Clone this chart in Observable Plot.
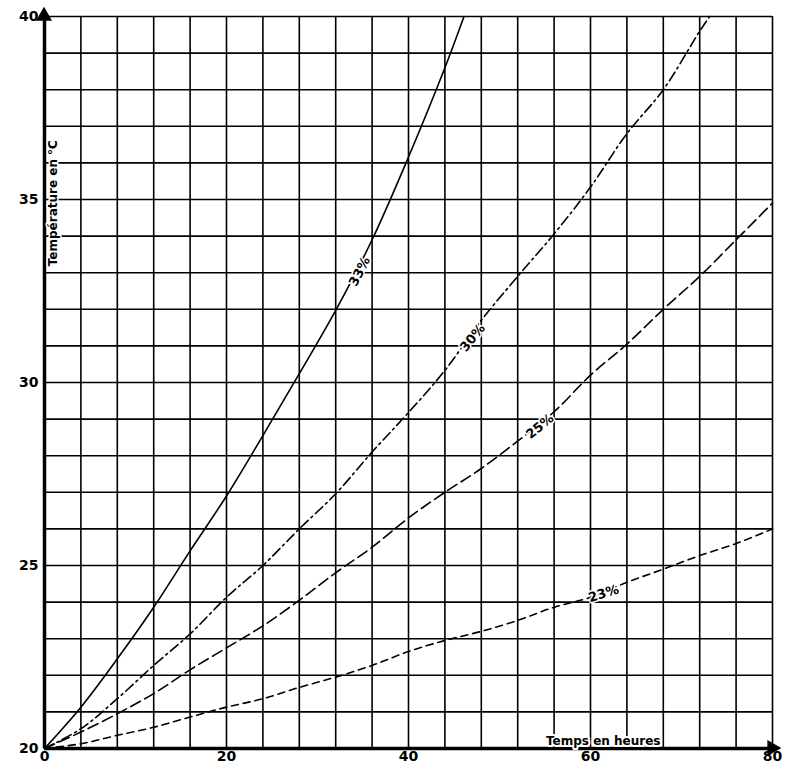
<!DOCTYPE html>
<html>
<head>
<meta charset="utf-8">
<script src="https://cdn.jsdelivr.net/npm/d3@7"></script>
<script src="https://cdn.jsdelivr.net/npm/@observablehq/plot@0.6"></script>
<style>
  body { margin: 0; background: #fff; }
  #chart svg { display: block; }
</style>
</head>
<body>
<div id="chart"></div>
<script>
// heures et températures
const hours = [0, 4, 8, 12, 16, 20, 24, 28, 32, 36, 40, 44, 48, 52, 56, 60, 64, 68, 72, 76, 80];

const hours33 = [0, 4, 8, 12, 16, 20, 24, 28, 32, 36, 40, 44, 46.1];
const temp33 = [20, 21.13, 22.45, 23.86, 25.4, 26.9, 28.55, 30.24, 31.97, 33.9, 36.16, 38.6, 40];

const hours30 = [0, 4, 8, 12, 16, 20, 24, 28, 32, 36, 40, 44, 48, 52, 56, 60, 64, 68, 72, 73.1];
const temp30 = [20, 20.54, 21.36, 22.27, 23.13, 24.13, 25.0, 26.0, 26.96, 28.1, 29.18, 30.33, 31.7, 32.9, 34.06, 35.34, 36.8, 38.0, 39.6, 40];

const temp25 = [20, 20.45, 20.95, 21.5, 22.15, 22.75, 23.35, 24.05, 24.8, 25.5, 26.3, 27.0, 27.65, 28.4, 29.2, 30.2, 31.05, 32.0, 32.9, 33.9, 34.9];

const temp23 = [20, 20.13, 20.36, 20.58, 20.86, 21.13, 21.36, 21.67, 21.95, 22.27, 22.65, 22.95, 23.2, 23.5, 23.86, 24.13, 24.54, 24.9, 25.27, 25.6, 26.0];

const xTicks = [0, 20, 40, 60, 80];
const yTicks = [20, 25, 30, 35, 40];
const xDomain = [0, 80];
const yDomain = [20, 40];

// étiquettes des courbes : heure où l'étiquette est posée sur la courbe
const curveLabels = ["33%", "30%", "25%", "23%"];
const labelHours = [34.2, 46.6, 54, 61];

const series = [
  {name: "33%", h: hours33, t: temp33, dash: null, angle: -63},
  {name: "30%", h: hours30, t: temp30, dash: "10,4,2,4", angle: -51},
  {name: "25%", h: hours, t: temp25, dash: "11,5", angle: -39},
  {name: "23%", h: hours, t: temp23, dash: "7,5", angle: -17}
];

const rows = series.flatMap(s => s.h.map((h, i) => ({name: s.name, h, t: s.t[i]})));

function at(s, h) {
  const i = d3.bisectLeft(s.h, h);
  if (i <= 0) return s.t[0];
  const h0 = s.h[i - 1], h1 = s.h[i];
  return s.t[i - 1] + (s.t[i] - s.t[i - 1]) * (h - h0) / (h1 - h0);
}

const labels = curveLabels.map((name, i) => {
  const s = series.find(d => d.name === name);
  return {name, h: labelHours[i], t: at(s, labelHours[i]), angle: s.angle};
});

// pointes de flèche des axes
const arrowHeads = [
  {h: xDomain[0], t: yDomain[1], angle: 0, dx: 0, dy: 8},
  {h: xDomain[1], t: yDomain[0], angle: 90, dx: -4, dy: 0}
];

const font = "'DejaVu Sans', sans-serif";

const chart = Plot.plot({
  width: 800,
  height: 775,
  marginLeft: 44,
  marginRight: 28,
  marginTop: 16,
  marginBottom: 27,
  x: {domain: xDomain},
  y: {domain: yDomain},
  style: {
    background: "#ffffff",
    color: "#000000",
    fontFamily: font,
    overflow: "visible"
  },
  marks: [
    Plot.gridX(d3.range(xDomain[0], xDomain[1] + 1, 4), {stroke: "#000", strokeOpacity: 1, strokeWidth: 1.6}),
    Plot.gridY(d3.range(yDomain[0], yDomain[1] + 1, 1), {stroke: "#000", strokeOpacity: 1, strokeWidth: 1.6}),
    ...series.map(s =>
      Plot.line(rows.filter(d => d.name === s.name), {
        x: "h",
        y: "t",
        stroke: "#000",
        strokeWidth: 1.6,
        strokeDasharray: s.dash,
        curve: "catmull-rom"
      })
    ),
    Plot.ruleX([xDomain[0]], {stroke: "#000", strokeWidth: 3.5}),
    Plot.ruleY([yDomain[0]], {stroke: "#000", strokeWidth: 3.5}),
    Plot.dot(arrowHeads, {
      x: "h",
      y: "t",
      symbol: "triangle",
      rotate: "angle",
      dx: "dx",
      dy: "dy",
      r: 5,
      fill: "#000",
      stroke: "#000"
    }),
    Plot.axisX(xTicks, {
      tickSize: 0,
      tickPadding: 3,
      label: null,
      fontSize: 14,
      fontWeight: "bold"
    }),
    Plot.axisY(yTicks, {
      tickSize: 0,
      tickPadding: 6,
      label: null,
      fontSize: 14,
      fontWeight: "bold"
    }),
    Plot.text(labels, {
      x: "h",
      y: "t",
      text: "name",
      rotate: "angle",
      dx: 4,
      fontSize: 13,
      fontWeight: "bold",
      fill: "#000",
      stroke: "#fff",
      strokeWidth: 3
    }),
    Plot.text(["Température en °C"], {
      x: 0,
      y: 34.9,
      dx: 9,
      rotate: -90,
      fontSize: 12,
      fontWeight: "bold",
      fill: "#000",
      stroke: "#fff",
      strokeWidth: 3
    }),
    Plot.text(["Temps en heures"], {
      x: 61.4,
      y: 20,
      dy: -7,
      fontSize: 12,
      fontWeight: "bold",
      fill: "#000",
      stroke: "#fff",
      strokeWidth: 4
    })
  ]
});

document.getElementById("chart").appendChild(chart);
</script>
</body>
</html>
